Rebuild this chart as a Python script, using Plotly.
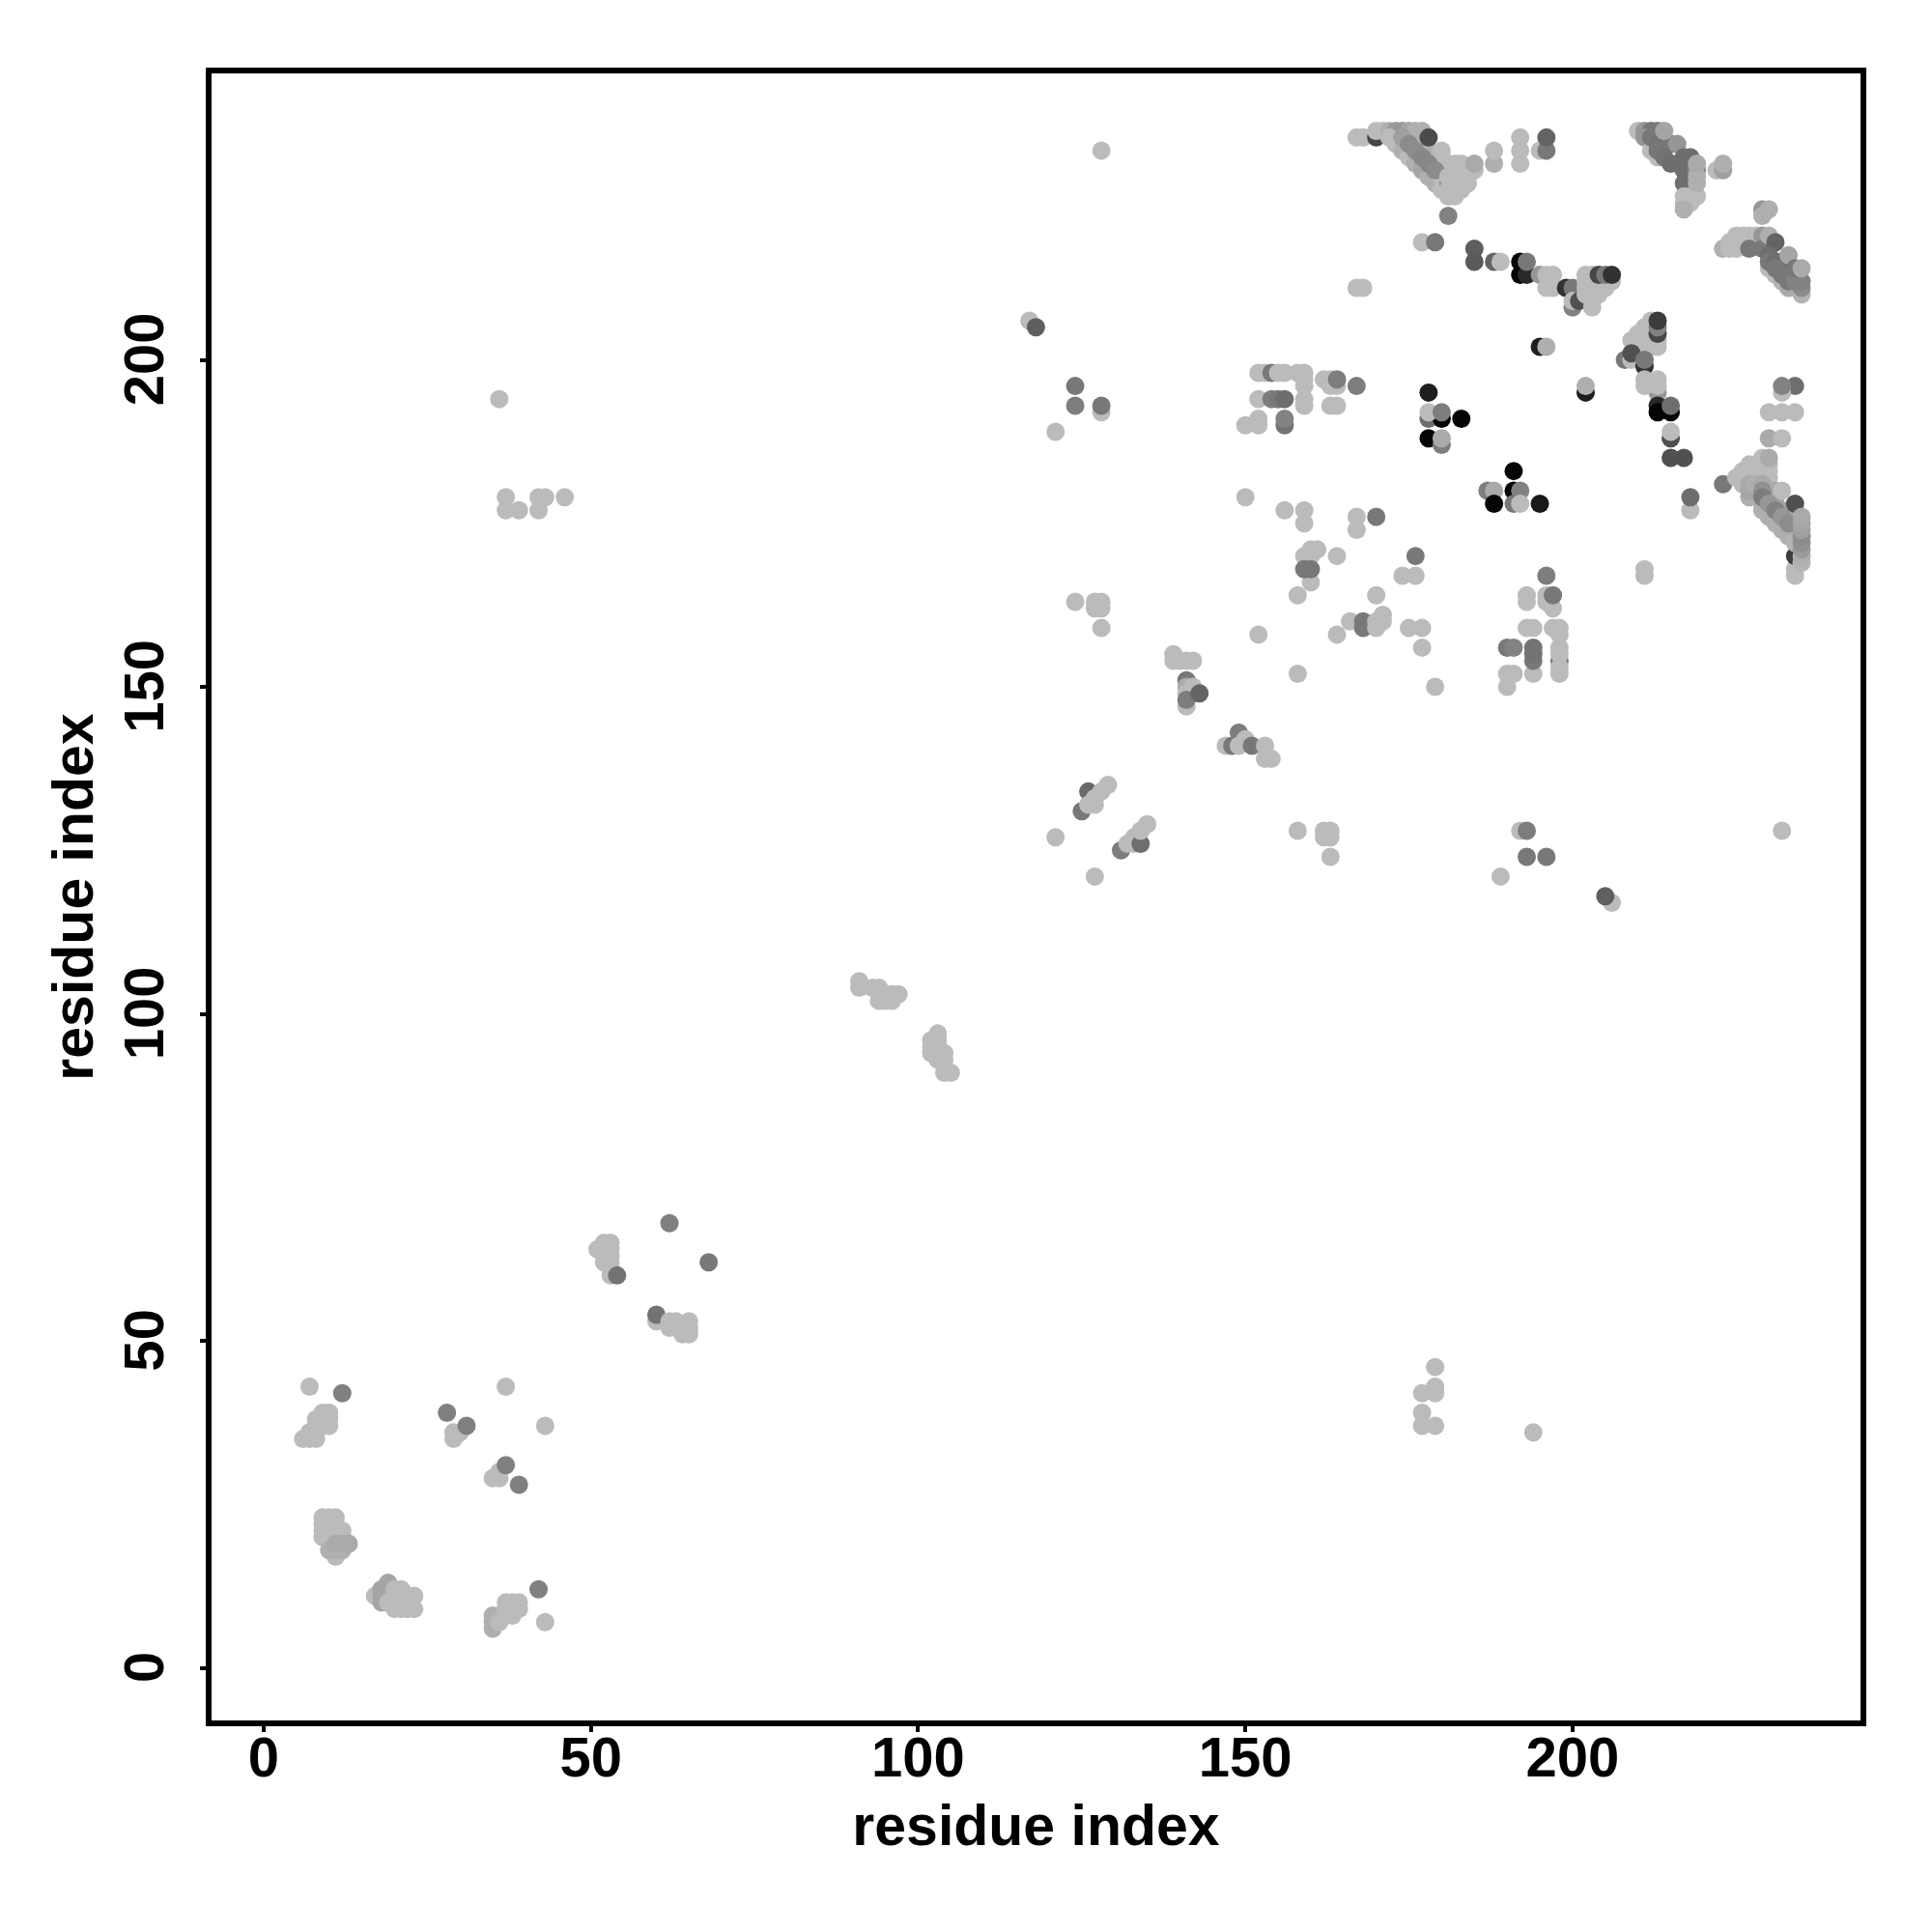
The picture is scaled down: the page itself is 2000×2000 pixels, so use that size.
import plotly.graph_objects as go

# each contact: (residue x, residue y, gray level); order is draw order
L = 187
low_left = [(7,43,L),(12,42,128),(9,39,L),(10,39,L),(9,38,L),(10,38,L),(8,38,L),(8,37,L),(9,37,L),(10,37,L),
    (7,36,L),(8,36,L),(6,35,L),(7,35,L),(8,35,L),(9,23,L),(10,23,L),(11,23,L),(9,22,L),(10,22,L),(11,22,L),
    (9,21,L),(10,21,L),(11,21,L),(12,21,L),(9,20,L),(10,20,L),(12,20,L),(11,17,L),(10,18,175),(11,18,175),(12,18,175),
    (11,19,170),(12,19,170),(13,19,170),(17,11,L),(19,13,165),(18,12,165),(19,12,165),(18,11,165),(19,11,165),
    (18,10,165),(19,10,L),(20,12,L),(21,12,L),(20,11,L),(21,11,L),(22,11,L),(23,11,L),(20,10,L),(21,10,L),(22,10,L),
    (20,9,L),(21,9,L),(22,9,L),(23,9,L)]
low_mid = [(28,39,128),(29,35,L),(29,36,L),(30,36,L),(31,37,128),(37,43,L),(43,37,L),(35,29,L),(36,29,L),(36,30,L),
    (37,31,128),(39,28,128),(42,12,128),(43,7,L),(35,6,175),(35,7,175),(35,8,175),(36,8,175),(36,7,L),(37,8,L),
    (37,10,L),(38,10,L),(39,10,L),(37,9,L),(38,9,L),(39,9,L),(38,8,L)]
chain_a = [(51,64,L),(52,65,L),(53,65,L),(52,64,L),(53,64,L),(52,63,L),(53,63,L),(52,62,L),(53,62,L),(53,60,L),
    (54,60,115),(62,68,128),(68,62,120),(60,53,L),(60,54,115),(62,53,L),(63,53,L),(62,52,L),(63,52,L),(64,52,L),
    (65,53,L),(65,52,L),(64,51,L),(65,51,L)]
chain_b = [(91,105,L),(91,104,L),(93,104,L),(94,104,L),(95,103,L),(96,103,L),(97,103,L),(94,102,L),(95,102,L),(96,102,L),
    (103,97,L),(102,96,L),(103,96,L),(102,95,L),(103,95,L),(102,94,L),(103,94,L),(104,94,L),(103,93,L),(104,93,L),
    (104,91,L),(105,91,L)]
far_off = [(179,46,L),(179,43,L),(179,42,L),(177,42,L),(177,39,L),(177,37,L),(179,37,L),(194,36,L),
    (36,194,L),(37,179,L),(37,177,L),(39,177,L),(42,179,L),(43,179,L),(42,177,L),(46,179,L),(128,232,L),
    (232,128,L),(206,117,L),(205,118,95)]
mid_a = [(117,206,L),(118,205,95),(124,196,120),(124,193,125),(121,189,L),(128,192,L),(128,193,120),(124,163,L),
    (127,163,L),(128,163,L),(127,162,L),(128,162,L),(128,159,L),(121,127,L),(127,121,L),(125,131,120),(126,134,105),
    (126,132,L),(127,133,L),(127,132,L),(128,134,L),(129,135,L),(131,125,125),(132,126,L),(133,126,L),(133,127,L),
    (134,126,110),(134,128,L),(135,129,L)]
mid_b = [(139,155,L),(139,154,L),(140,154,L),(141,154,L),(142,154,L),(141,151,120),(141,150,170),(142,150,L),(141,149,L),
    (142,149,L),(141,147,L),(141,148,125),(143,149,100),(147,141,L),(148,141,120),(149,143,125),(150,142,L),(149,141,L),
    (151,141,120),(153,141,L),(153,139,L),(154,139,L),(158,128,L),(162,128,L),(163,128,L),(162,127,L),
    (163,127,L),(163,124,L),(192,128,L),(193,128,125),(193,124,120),(196,124,120),(189,121,L)]
center_a = [(150,179,L),(156,177,L),(159,177,L),(159,175,L),(167,176,L),(170,176,120),(167,174,L),(176,170,120),
    (174,167,L),(176,167,L),(159,170,L),(160,170,L),(160,171,L),(161,171,L),(164,170,L),(160,166,L),(159,168,120),
    (160,168,120),(158,164,L),(170,164,L),(166,160,L),(168,160,120),(168,159,120),(170,160,L),(170,159,L),(171,161,L),
    (171,160,L),(164,158,L),(152,158,L),(175,159,L),(177,159,L),(177,156,L),(179,150,L),(158,152,L)]
center_b = [(196,167,125),(193,164,L),(193,163,L),(196,164,L),(196,163,L),(197,162,L),(197,164,120),(193,159,L),
    (194,159,L),(197,159,L),(198,159,L),(198,158,L),(198,154,120),(198,152,L),(198,153,L),(198,156,L),(198,155,L),
    (194,152,L),(194,154,120),(194,155,115),(194,156,115),(190,156,120),(191,156,130),(190,152,L),(191,152,L),(190,150,L)]
upper_a = [(152,198,L),(153,198,L),(154,198,120),(155,198,L),(156,198,L),(158,198,L),(159,198,L),(159,197,L),(159,196,L),
    (162,197,L),(163,197,L),(163,196,L),(164,196,L),(164,197,125),(167,196,125),(152,194,L),(154,194,125),(155,194,120),
    (156,194,110),(159,194,L),(159,193,L),(163,193,L),(164,193,L),(156,190,115),(156,191,130),(150,190,L),(152,191,L),(152,190,L)]
upper_b = [(178,195,30),(178,191,110),(180,191,5),(178,192,L),(180,192,125),(183,191,5),(178,188,5),(180,187,125),(180,188,170),
    (191,183,5),(187,180,125),(188,180,170),(188,178,5),(191,180,5),(192,180,130),(191,178,120),(192,178,L),(195,178,25),
    (195,202,30),(196,202,175),(202,195,30),(202,196,175)]
ridge_a = [(212,206,L),(211,205,L),(212,205,L),(210,204,L),(211,204,L),(212,204,L),(209,203,L),(210,203,L),(211,203,L),
    (212,203,L),(210,202,L),(211,202,L),(212,202,L),(213,202,L),(213,203,L),(213,204,70),(213,205,130),(213,206,60),
    (208,200,120),(209,200,L),(209,201,80),(211,199,50),(211,200,120),(213,195,150),(211,197,L),(211,196,L),(213,197,L),(213,196,L),
    (213,193,40),(213,192,5),(215,192,5),(215,193,110),(215,188,80),(215,189,L),(215,185,80),(217,185,80),(218,177,L),(218,179,110),
    (223,181,120),(234,196,110),(232,195,L),(232,196,130),(230,192,L),(232,192,L),(234,192,L),(230,188,170),(232,188,L),(211,168,L),(211,167,L)]
wedge_a = [(234,168,L),(234,167,L),(234,170,60),(225,182,L),(226,183,L),(226,181,L),(227,184,L),(227,183,L),(228,184,L),
    (229,185,L),(227,182,L),(228,183,L),(228,182,L),(229,184,L),(229,183,L),(229,182,L),(230,184,L),(230,183,L),(230,182,L),
    (227,179,175),(227,180,165),(227,181,170),(228,181,175),(229,181,170),(229,178,170),(229,177,175),(230,176,175),
    (231,175,175),(232,174,175),(233,173,175),(234,172,180),(230,185,170),(231,179,170),(231,180,170),(230,179,165),
    (231,178,165),(232,177,165),(233,176,165),(234,175,165),(229,180,145),(229,179,125),(230,178,150),(231,177,130),
    (232,176,150),(233,175,140),(232,180,L),(234,178,80),(235,169,180),(235,170,175),(235,171,155),(235,172,145),
    (235,173,140),(235,174,160),(235,175,165),(235,176,170)]
top_a = [(167,234,L),(168,234,L),(170,234,70),(170,235,L),(171,235,L),(172,235,175),(173,235,155),(174,235,150),(175,235,165),(176,235,175),
    (177,235,175),(172,234,L),(173,233,L),(174,232,175),(175,231,L),(176,230,175),(177,229,165),(178,228,175),(179,227,175),(180,226,L),(181,225,L),
    (176,234,175),(177,233,175),(178,232,175),(179,231,175),(180,231,L),(176,233,175),(177,232,175),(178,231,175),(179,230,175),(180,230,L),
    (181,230,L),(180,229,L),(181,229,L),(180,228,L),
    (174,234,160),(175,233,140),(176,232,140),(177,231,135),
    (178,230,135),(179,229,140),(178,234,75),(180,232,L),(181,227,150),(182,230,L),(183,230,L),(182,229,L),(183,229,L),(184,229,L),(185,229,L),
    (181,228,L),(182,228,L),(183,228,L),(184,228,L),(181,226,L),(182,227,L),(183,227,L),(184,227,L),(182,226,L),(183,226,L),
    (182,225,L),(185,230,170),(181,222,130),(188,230,175),(188,232,L),(192,234,L),(192,232,L),(192,230,L),(195,232,L),(196,232,120),(196,234,100)]
top_b = [(210,235,L),(211,235,150),(212,235,120),(213,235,120),(211,234,150),(212,232,L),(213,231,L),(212,234,120),(213,234,120),
    (213,233,115),(215,233,120),(213,232,120),(214,231,115),(215,230,110),(216,230,110),(214,235,165),(216,233,150),(217,231,110),(218,231,110),
    (217,229,110),(219,229,140),(217,227,110),(217,225,L),(218,225,L),(217,224,L),(218,224,L),(217,223,175),(219,225,L),(219,227,175),(219,228,175),(219,230,170),
    (222,229,L),(223,229,160),(223,230,175),(229,223,150),(229,222,175),(230,223,175)]
top_c = [(223,217,175),(224,217,L),(224,218,L),(225,219,L),(225,217,L),(226,219,L),(227,219,L),(228,219,L),(227,217,120),(229,219,150),(229,217,120),
    (230,219,175),(231,218,100),(230,216,110),(230,214,L),(231,213,L),(232,212,180),(233,211,170),(230,215,120),(231,215,110),(232,215,110),(231,214,120),
    (232,213,120),(233,213,120),(233,212,120),(233,216,165),(235,210,180),(235,211,140),(235,212,130),(234,212,130),(234,214,120),(235,214,170)]
bridge = [(177,218,L),(179,218,120),(185,217,95),(185,215,90),(188,215,100),(189,215,L),(192,215,5),(192,213,5),(193,213,40),(193,215,120),
    (195,213,150),(196,213,L),(197,213,L),(196,211,L),(197,211,L),(167,211,L),(168,211,L),(199,211,50),(200,211,120),(200,208,130),(200,209,L),(201,209,80),
    (202,213,L),(203,213,L),(202,212,L),(203,212,L),(204,212,L),(205,212,L),(206,212,L),(202,211,L),(203,211,L),(204,211,L),(205,211,L),
    (202,210,L),(203,210,L),(204,210,L),(203,209,L),(203,208,L),(204,213,70),(205,213,120),(206,213,50)]

contacts = (low_left + low_mid + chain_a + chain_b + far_off + mid_a + mid_b + center_a + center_b + upper_a
            + upper_b + ridge_a + wedge_a + top_a + top_b + top_c + bridge)
x_values = [c[0] for c in contacts]
y_values = [c[1] for c in contacts]
gray_values = [c[2] for c in contacts]
tick_values = [0, 50, 100, 150, 200]

FONT = "Liberation Sans"
fig = go.Figure(go.Scatter(
    x=x_values, y=y_values, mode="markers",
    marker=dict(size=19, color=gray_values, cmin=0, cmax=255,
                colorscale=[[0, "black"], [1, "white"]], showscale=False, line=dict(width=0)),
))
axis = dict(showgrid=False, zeroline=False, showline=True, mirror=True, linecolor="black", linewidth=5.5,
            ticks="outside", ticklen=6, tickwidth=3.5, tickcolor="black", tickvals=tick_values,
            tickfont=dict(family=FONT, size=58, color="black", weight="bold"))
fig.update_xaxes(axis, range=[-7.97, 244.0], ticklabelstandoff=-23,
                 title=dict(text="<b>residue index</b>", font=dict(family=FONT, size=59, color="black"), standoff=20))
fig.update_yaxes(axis, range=[-8.04, 243.8], tickangle=-90, ticklabelstandoff=15, ticklabelshift=8,
                 title=dict(text="<b>residue index</b>", font=dict(family=FONT, size=59, color="black"), standoff=2))
fig.update_layout(width=2000, height=2000, autosize=False, plot_bgcolor="white", paper_bgcolor="white",
                  margin=dict(l=218.5, r=74, t=75.5, b=218.5), showlegend=False)
fig.write_html("out.html", config={"displayModeBar": False}, post_script="document.body.style.margin='0';")
